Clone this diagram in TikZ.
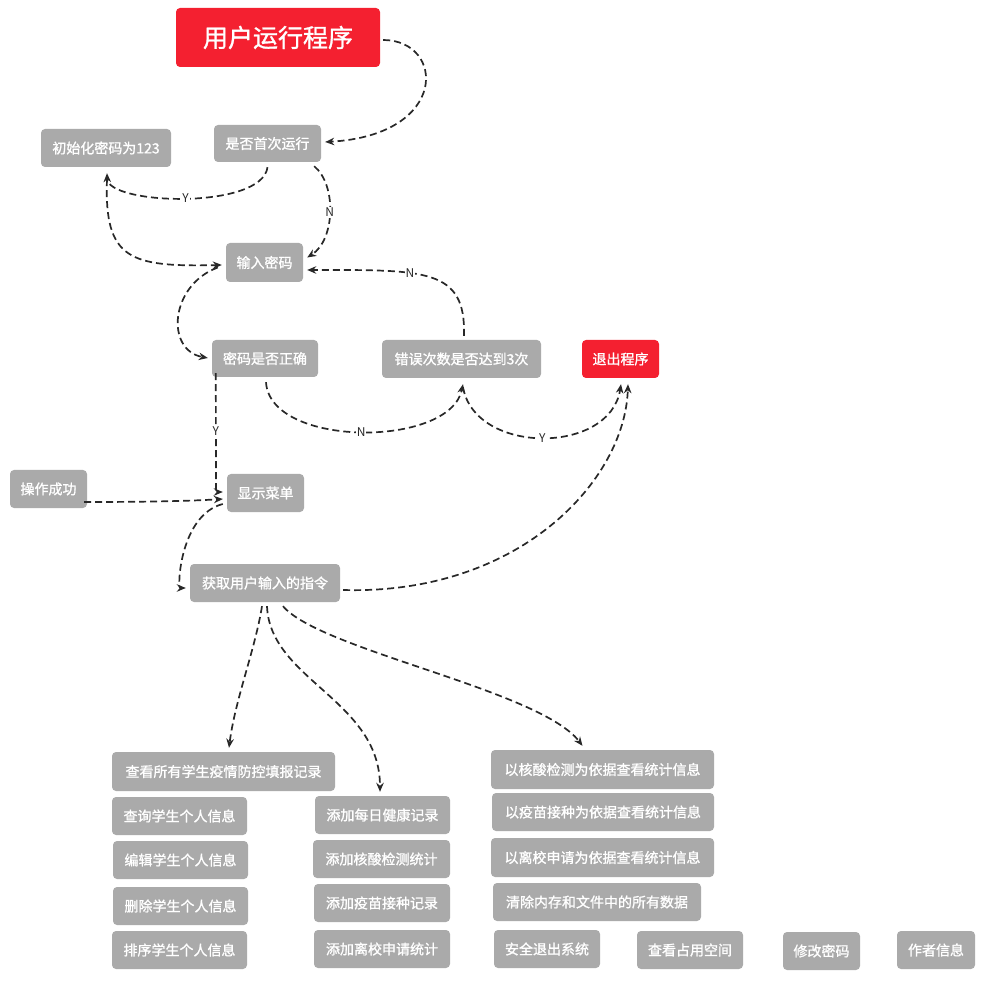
\documentclass[tikz,border=0pt]{standalone}
\usepackage{fontspec}
\setmainfont{Noto Sans CJK SC}
\newfontfamily\boxfont{Noto Sans CJK SC}[FakeBold=1.2]
\usetikzlibrary{arrows.meta,calc}
\definecolor{boxgray}{RGB}{170,170,170}
\definecolor{boxred}{RGB}{244,32,48}
\definecolor{edgec}{RGB}{40,40,40}
\tikzset{
  gbox/.style={fill=boxgray, rounded corners=4pt, text=white, font=\boxfont\fontsize{14}{16}\selectfont, inner sep=0pt, minimum height=38pt},
  rbox/.style={gbox, fill=boxred},
  conn/.style={draw=edgec, line width=1.7pt, dash pattern=on 7pt off 4pt, -{Stealth[length=9pt,width=7.5pt]}},
  lbl/.style={fill=white, inner sep=1pt, font=\fontsize{12}{13}\selectfont, text=edgec}
}
\begin{document}
\begin{tikzpicture}[x=1pt,y=-1pt]
\useasboundingbox (0,0) rectangle (983,981);
% nodes
\node[rbox, minimum width=204pt, minimum height=59pt, font=\boxfont\fontsize{25}{28}\selectfont] (title) at (278,37.5) {用户运行程序};
\node[gbox, minimum width=107pt, minimum height=37pt] (q1) at (267.5,143.5) {是否首次运行};
\node[gbox, minimum width=130pt] (init) at (106,148) {初始化密码为123};
\node[gbox, minimum width=77pt, minimum height=39pt] (inpw) at (264.5,262.5) {输入密码};
\node[gbox, minimum width=106pt, minimum height=37pt] (chk) at (265,358.5) {密码是否正确};
\node[gbox, minimum width=159pt] (err) at (461.5,359) {错误次数是否达到3次};
\node[rbox, minimum width=77pt] (exit) at (620.5,359) {退出程序};
\node[gbox, minimum width=77pt] (ok) at (48.5,489) {操作成功};
\node[gbox, minimum width=77pt] (menu) at (265.5,493) {显示菜单};
\node[gbox, minimum width=150pt] (get) at (265,583) {获取用户输入的指令};
\node[gbox, minimum width=223pt, minimum height=39pt] (a1) at (223.5,771.5) {查看所有学生疫情防控填报记录};
\node[gbox, minimum width=135pt] (a2) at (179.5,816) {查询学生个人信息};
\node[gbox, minimum width=135pt] (a3) at (180.5,860) {编辑学生个人信息};
\node[gbox, minimum width=135pt] (a4) at (180.5,906) {删除学生个人信息};
\node[gbox, minimum width=135pt] (a5) at (179.5,950) {排序学生个人信息};
\node[gbox, minimum width=135pt] (b1) at (382.5,815) {添加每日健康记录};
\node[gbox, minimum width=137pt] (b2) at (381.5,859) {添加核酸检测统计};
\node[gbox, minimum width=136pt] (b3) at (382,903) {添加疫苗接种记录};
\node[gbox, minimum width=136pt] (b4) at (382,949) {添加离校申请统计};
\node[gbox, minimum width=223pt, minimum height=39pt] (c1) at (602.5,769.5) {以核酸检测为依据查看统计信息};
\node[gbox, minimum width=222pt] (c2) at (603,812) {以疫苗接种为依据查看统计信息};
\node[gbox, minimum width=223pt, minimum height=39pt] (c3) at (602.5,857.5) {以离校申请为依据查看统计信息};
\node[gbox, minimum width=208pt] (c4) at (597,902) {清除内存和文件中的所有数据};
\node[gbox, minimum width=106pt] (d1) at (547,949) {安全退出系统};
\node[gbox, minimum width=106pt] (d2) at (690,950) {查看占用空间};
\node[gbox, minimum width=77pt] (d3) at (821.5,951) {修改密码};
\node[gbox, minimum width=78pt] (d4) at (936,950) {作者信息};
% connectors
\draw[conn] ($(title.east)+(3,2.5)$) .. controls (445,40) and (450,135) .. ($(q1.east)+(4,-1.5)$);
\draw[conn] ($(q1.south)+(0,5)$) .. controls (262,210) and (108,205) .. ($(init.south)+(1,6)$) node[lbl, pos=0.5] {Y};
\draw[conn] ($(init.south)+(1,12)$) .. controls (104,260) and (130,267) .. ($(inpw.west)+(-4,2.5)$);
\draw[conn] ($(q1.south east)+(-7,4)$) .. controls (337,185) and (335,240) .. ($(inpw.east)+(4,-5)$) node[lbl, pos=0.5] {N};
\draw[conn] ($(inpw.west)+(-8,5)$) .. controls (170,285) and (165,350) .. ($(chk.west)+(-4,-0.5)$);
\draw[conn] ($(err.north)+(2.5,-4)$) .. controls (466,268) and (425,270) .. ($(inpw.east)+(4,7.5)$) node[lbl, pos=0.62] {N};
\draw[conn] ($(chk.south)+(1,5)$) .. controls (270,448) and (450,448) .. ($(err.south)+(1.5,6)$) node[lbl, pos=0.5] {N};
\draw[conn] ($(err.south)+(1.5,9)$) .. controls (475,455) and (610,455) .. ($(exit.south)+(0.5,6)$) node[lbl, pos=0.5] {Y};
\draw[conn] ($(chk.south west)+(4,-4)$) -- (216,484) node[lbl, pos=0.52] {Y} .. controls (216,492) .. ($(menu.west)+(-4,-1)$);
\draw[conn] ($(ok.east)+(-3,13)$) .. controls (150,502) and (190,501) .. ($(menu.west)+(-4,6)$);
\draw[conn] ($(menu.west)+(-4,11)$) .. controls (180,515) and (177,588) .. ($(get.west)+(-4,5)$);
\draw[conn] ($(get.east)+(3,7)$) .. controls (520,595) and (625,480) .. ($(exit.south)+(7.5,6)$);
\draw[conn] ($(get.south)+(-3,4)$) .. controls (255,650) and (235,700) .. ($(a1.north)+(5.5,-4)$);
\draw[conn] ($(get.south)+(2,4)$) .. controls (270,680) and (380,700) .. ($(b1.north)+(-2.5,-4)$);
\draw[conn] ($(get.south)+(18,4)$) .. controls (320,650) and (540,690) .. ($(c1.north)+(-20,-4)$);
\end{tikzpicture}
\end{document}
